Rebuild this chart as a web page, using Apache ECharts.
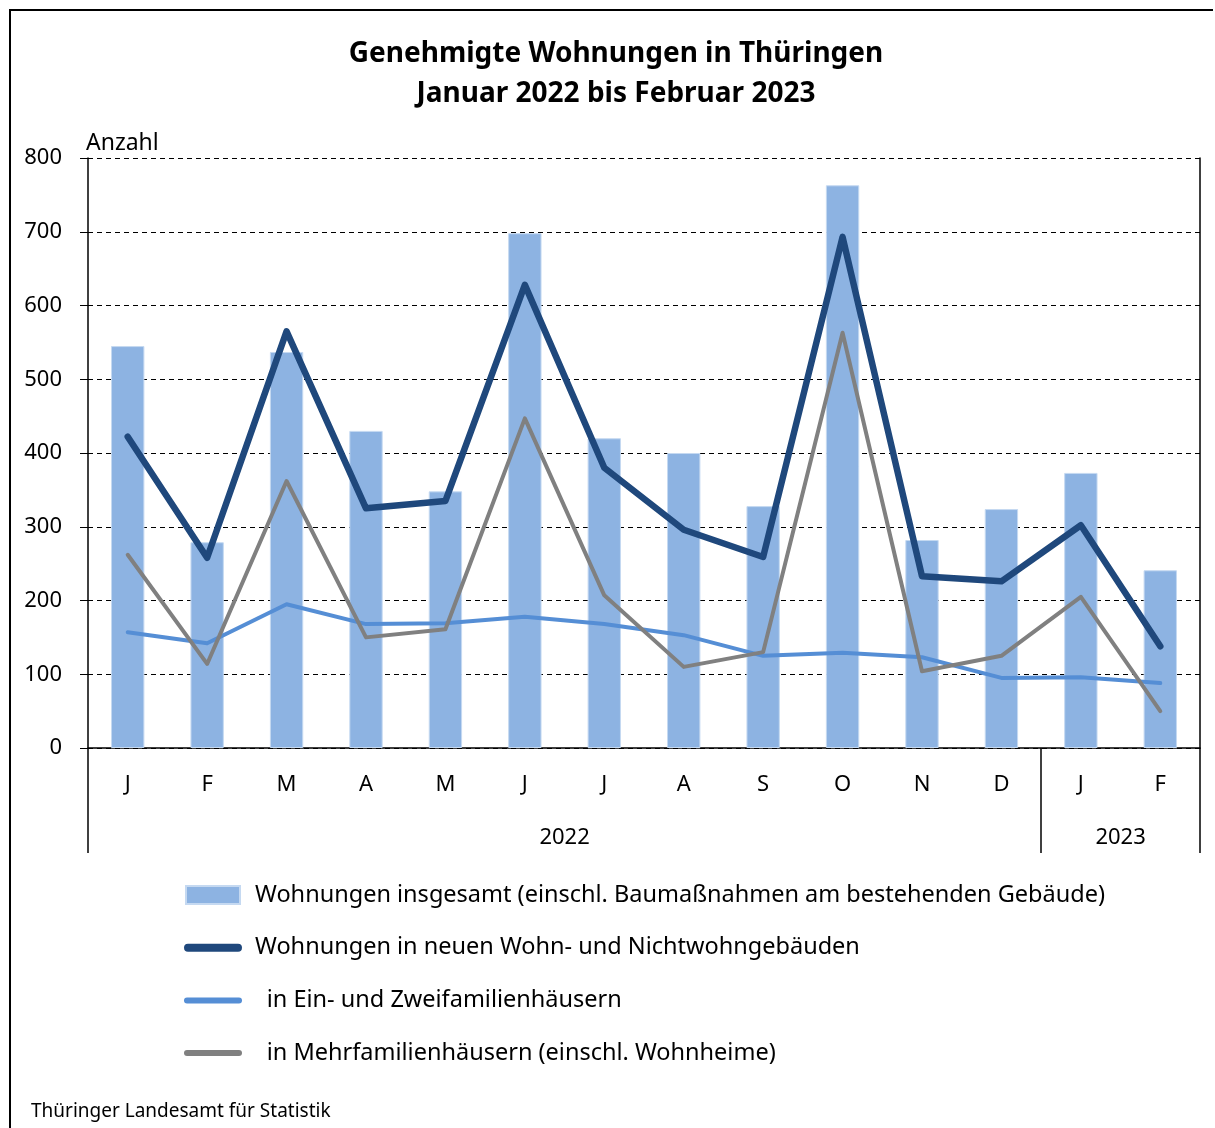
<!DOCTYPE html>
<html>
<head>
<meta charset="utf-8">
<script src="https://cdn.jsdelivr.net/npm/echarts@6/dist/echarts.min.js"></script>
<style>
    html, body { margin: 0; padding: 0; background: #fff; }
    #chart { width: 1215px; height: 1128px; }
</style>
</head>
<body>
<div id="chart"></div>
<script>
// Monate Jan 2022 - Feb 2023
const months = ["J", "F", "M", "A", "M", "J", "J", "A", "S", "O", "N", "D", "J", "F"];
const years = [
    { label: "2022", from: 0, to: 11 },
    { label: "2023", from: 12, to: 13 }
];
const yTicks = [0, 100, 200, 300, 400, 500, 600, 700, 800];

// Werte
const insgesamt = [545, 279, 537, 430, 348, 698, 420, 400, 328, 763, 282, 324, 373, 241];
const neueGebaeude = [422, 258, 565, 325, 335, 628, 380, 296, 259, 693, 233, 226, 302, 138];
const einZwei = [157, 142, 195, 168, 169, 178, 168, 153, 125, 129, 123, 95, 96, 88];
const mehrfam = [262, 114, 362, 150, 161, 447, 207, 110, 130, 563, 104, 125, 205, 50];

const names = [
    "Wohnungen insgesamt (einschl. Baumaßnahmen am bestehenden Gebäude)",
    "Wohnungen in neuen Wohn- und Nichtwohngebäuden",
    "\u2002in Ein- und Zweifamilienhäusern",
    "\u2002in Mehrfamilienhäusern (einschl. Wohnheime)"
];

const font = "Noto Sans";
// Legendensymbole: abgerundete Linien (keepAspect -> zentriert)
const lineIcon = (h) => "path://M" + h / 2 + ",0 L" + (58 - h / 2) + ",0 A" + h / 2 + "," + h / 2 + " 0 0 1 " + (58 - h / 2) + "," + h +
    " L" + h / 2 + "," + h + " A" + h / 2 + "," + h / 2 + " 0 0 1 " + h / 2 + ",0 Z";

const myChart = echarts.init(document.getElementById("chart"));

let option = {
    backgroundColor: "#fff",
    textStyle: { fontFamily: font, color: "#000" },
    animation: false,
    title: {
        text: "Genehmigte Wohnungen in Thüringen\nJanuar 2022 bis Februar 2023",
        left: 611,
        top: 29,
        textAlign: "center",
        textStyle: {
            fontFamily: font,
            fontSize: 28,
            fontWeight: "bold",
            lineHeight: 40,
            color: "#000"
        }
    },
    grid: {
        left: 88,
        right: 15,
        top: 158,
        bottom: 380,
        containLabel: false
    },
    legend: {
        orient: "vertical",
        left: 184,
        top: 883,
        padding: 0,
        itemWidth: 58,
        itemHeight: 18,
        itemGap: 28.7,
        selectedMode: false,
        symbolKeepAspect: true,
        textStyle: {
            fontFamily: font,
            fontSize: 23.5,
            color: "#000",
            padding: [0, 0, 0, 8]
        },
        data: [
            { name: names[0], icon: "path://M0,0 L54,0 L54,18 L0,18 Z" },
            { name: names[1], icon: lineIcon(8) },
            { name: names[2], icon: lineIcon(6) },
            { name: names[3], icon: lineIcon(6) }
        ]
    },
    xAxis: {
        type: "category",
        data: months,
        axisLine: { lineStyle: { color: "#000", width: 1.5 } },
        axisTick: { show: false },
        axisLabel: {
            color: "#000",
            fontSize: 22,
            margin: 26
        }
    },
    yAxis: [
        {
            type: "value",
            min: 0,
            max: 800,
            interval: 100,
            name: "Anzahl",
            nameLocation: "end",
            nameGap: 3,
            nameTextStyle: {
                color: "#000",
                fontSize: 23,
                align: "left",
                padding: [0, 0, 0, -2]
            },
            axisLine: { show: true, lineStyle: { color: "#000", width: 1.5 } },
            axisTick: { show: true, length: 8, lineStyle: { color: "#000" } },
            axisLabel: {
                color: "#000",
                fontSize: 22,
                margin: 26,
                formatter: (v) => (yTicks.indexOf(v) >= 0 ? String(v) : "")
            },
            splitLine: {
                show: true,
                lineStyle: { color: "#000", type: [5, 4], width: 1 }
            }
        },
        {
            type: "value",
            min: 0,
            max: 800,
            interval: 100,
            position: "right",
            axisLine: { show: true, lineStyle: { color: "#000", width: 1.5 } },
            axisTick: { show: false },
            axisLabel: { show: false },
            splitLine: { show: false }
        }
    ],
    series: [
        {
            name: names[0],
            type: "bar",
            data: insgesamt,
            barWidth: "42%",
            itemStyle: {
                color: "#8db3e2",
                borderColor: "#c5d9f1",
                borderWidth: 1
            },
            z: 2
        },
        {
            name: names[1],
            type: "line",
            data: neueGebaeude,
            symbol: "none",
            lineStyle: { color: "#1f487c", width: 6.5, join: "round", cap: "round" },
            itemStyle: { color: "#1f487c" },
            z: 5
        },
        {
            name: names[2],
            type: "line",
            data: einZwei,
            symbol: "none",
            lineStyle: { color: "#558ed5", width: 4, join: "round", cap: "round" },
            itemStyle: { color: "#558ed5" },
            z: 3
        },
        {
            name: names[3],
            type: "line",
            data: mehrfam,
            symbol: "none",
            lineStyle: { color: "#808080", width: 4, join: "round", cap: "round" },
            itemStyle: { color: "#808080" },
            z: 4
        }
    ]
};

myChart.setOption(option);

// Jahresgliederung unter der x-Achse
const y0 = myChart.convertToPixel({ yAxisIndex: 0 }, 0);
const half = (myChart.convertToPixel({ xAxisIndex: 0 }, 1) - myChart.convertToPixel({ xAxisIndex: 0 }, 0)) / 2;
const bottomY = y0 + 105;
let graphics = [];

const edges = [];
years.forEach((yr) => {
    const x1 = myChart.convertToPixel({ xAxisIndex: 0 }, yr.from) - half;
    const x2 = myChart.convertToPixel({ xAxisIndex: 0 }, yr.to) + half;
    edges.push(x1, x2);
    graphics.push({
        type: "text",
        x: (x1 + x2) / 2,
        y: y0 + 90,
        style: {
            text: yr.label,
            fontFamily: font,
            fontSize: 22,
            fill: "#000",
            align: "center",
            verticalAlign: "middle"
        }
    });
});
[...new Set(edges.map((e) => Math.round(e)))].forEach((x) => {
    graphics.push({
        type: "line",
        shape: { x1: x, y1: y0, x2: x, y2: bottomY },
        style: { stroke: "#000", lineWidth: 1.5 }
    });
});

// Rahmen + Quelle
graphics.push(
    {
        type: "polyline",
        shape: { points: [[10, 1128], [10, 10], [1213, 10]] },
        style: { stroke: "#000", lineWidth: 2, fill: null }
    },
    {
        type: "text",
        left: 31,
        top: 1102,
        style: {
            text: "Thüringer Landesamt für Statistik",
            fontFamily: font,
            fontSize: 19,
            fill: "#000"
        }
    }
);

myChart.setOption({ graphic: graphics });
</script>
</body>
</html>
